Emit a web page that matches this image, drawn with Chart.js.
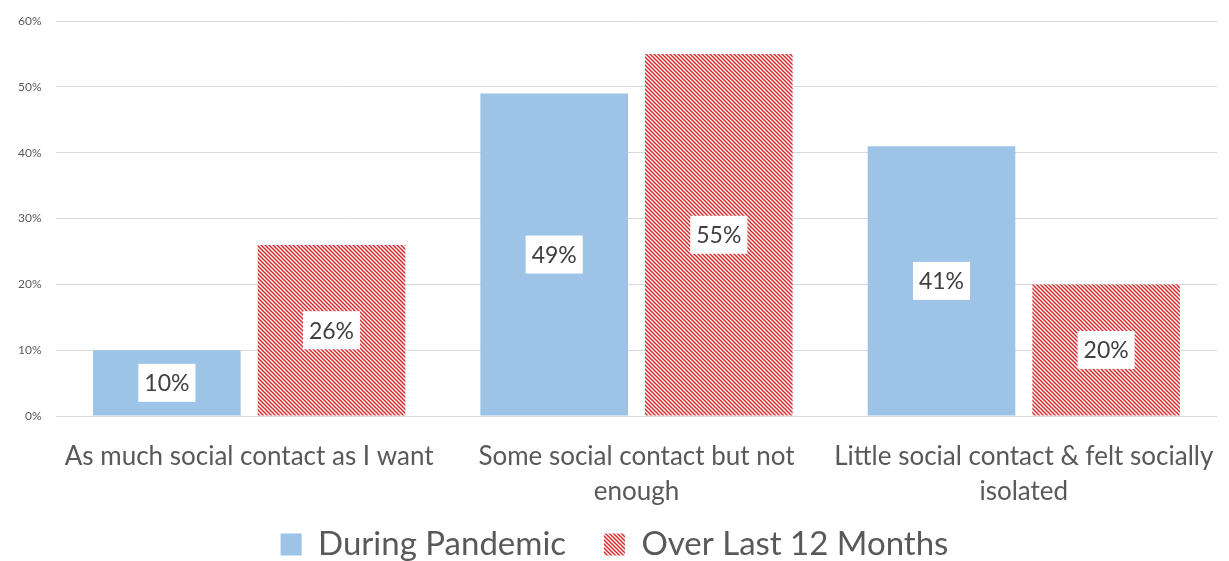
<!DOCTYPE html>
<html>
<head>
<meta charset="utf-8">
<script src="https://cdn.jsdelivr.net/npm/chart.js@4/dist/chart.umd.min.js"></script>
<style>
  html, body { margin: 0; padding: 0; background: #ffffff; }
  #wrap { width: 1229px; height: 561px; }
</style>
</head>
<body>
<div id="wrap"><canvas id="c" width="1229" height="561"></canvas></div>
<script>
// Survey answers on social contact
const categories = [
  ['As much social contact as I want'],
  ['Some social contact but not', 'enough'],
  ['Little social contact & felt socially', 'isolated']
];
const seriesNames = ['During Pandemic', 'Over Last 12 Months'];
const duringPandemic = [10, 49, 41];
const overLast12Months = [26, 55, 20];
const yTicks = [0, 10, 20, 30, 40, 50, 60];

const FONT = 'Lato, "Open Sans", sans-serif';
const TEXT = '#595959';

// Diagonal red hatch fill
function makeHatch() {
  const n = 4;
  const p = document.createElement('canvas');
  p.width = n; p.height = n;
  const g = p.getContext('2d');
  g.fillStyle = '#ffffff';
  g.fillRect(0, 0, n, n);
  g.strokeStyle = '#d8282c';
  g.lineWidth = 1.5;
  g.beginPath();
  for (let k = -n; k <= n; k += n) {
    g.moveTo(k - 1, -1); g.lineTo(k + n + 1, n + 1);
  }
  g.stroke();
  return document.getElementById('c').getContext('2d').createPattern(p, 'repeat');
}
const hatch = makeHatch();

// Value labels in white boxes at the middle of each bar
const valueBoxes = {
  id: 'valueBoxes',
  afterDatasetsDraw(chart) {
    const ctx = chart.ctx;
    ctx.save();
    ctx.font = '23px ' + FONT;
    ctx.textAlign = 'center';
    ctx.textBaseline = 'middle';
    chart.data.datasets.forEach((ds, i) => {
      chart.getDatasetMeta(i).data.forEach((bar, j) => {
        const txt = ds.data[j] + '%';
        const cy = (bar.y + bar.base) / 2;
        const w = ctx.measureText(txt).width + 12;
        const h = 38;
        ctx.fillStyle = '#ffffff';
        ctx.fillRect(bar.x - w / 2, cy - h / 2, w, h);
        ctx.fillStyle = '#404040';
        ctx.fillText(txt, bar.x, cy + 1);
      });
    });
    ctx.restore();
  }
};

new Chart(document.getElementById('c'), {
  type: 'bar',
  data: {
    labels: categories,
    datasets: [
      { label: seriesNames[0], data: duringPandemic, backgroundColor: '#9dc3e6', borderWidth: 0 },
      { label: seriesNames[1], data: overLast12Months, backgroundColor: hatch, borderWidth: 0 }
    ]
  },
  options: {
    responsive: false,
    animation: false,
    layout: { padding: { left: 4, right: 4, top: 7, bottom: -10 } },
    datasets: { bar: { categoryPercentage: 0.85, barPercentage: 0.897 } },
    scales: {
      x: {
        grid: { display: false },
        border: { display: false },
        ticks: { color: TEXT, font: { family: FONT, size: 26, lineHeight: 35 / 26 }, padding: 15, maxRotation: 0, autoSkip: false }
      },
      y: {
        min: 0, max: 60,
        afterBuildTicks(axis) { axis.ticks = yTicks.map(v => ({ value: v })); },
        grid: { color: '#d9d9d9', lineWidth: 1, drawTicks: false },
        border: { display: false },
        ticks: { color: TEXT, font: { family: FONT, size: 12 }, padding: 14, callback: v => v + '%' }
      }
    },
    plugins: {
      legend: {
        position: 'bottom',
        labels: {
          color: TEXT, font: { family: FONT, size: 33 }, boxWidth: 21, boxHeight: 22, padding: 4,
          // extra gap after the first entry
          generateLabels(chart) {
            const items = Chart.defaults.plugins.legend.labels.generateLabels(chart);
            items.forEach((it, i) => { if (i < items.length - 1) it.text += '    '; });
            return items;
          }
        }
      },
      tooltip: { enabled: false }
    }
  },
  plugins: [valueBoxes]
});
</script>
</body>
</html>
